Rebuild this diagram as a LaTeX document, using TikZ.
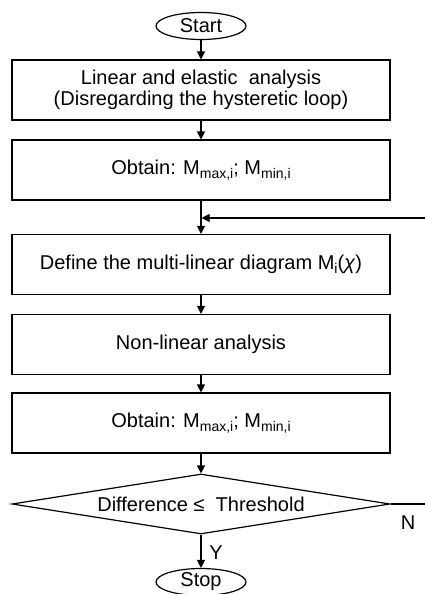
\documentclass[tikz,border=0pt]{standalone}
\usepackage{fontspec}
\setmainfont{Liberation Sans}
\usetikzlibrary{shapes.geometric,arrows.meta}
\newcommand{\subx}[1]{\raisebox{-0.4ex}{\fontsize{14}{14}\selectfont #1}}
\begin{document}
\begin{tikzpicture}[x=1pt,y=-1pt,
  every node/.style={font=\fontsize{20}{21.5}\selectfont},
  proc/.style={draw, line width=1.2pt, minimum width=378pt, minimum height=60pt, inner sep=0pt, align=center},
  term/.style={draw, line width=1.2pt, ellipse, minimum width=90pt, minimum height=27pt, inner sep=0pt},
  dec/.style={draw, line width=1.2pt, diamond, minimum width=378pt, minimum height=60pt, inner sep=0pt, aspect=6.3},
  conn/.style={line width=1.2pt, -{Triangle[length=8pt,width=8pt]}},
  plain/.style={line width=1.2pt}]
\useasboundingbox (0,0) rectangle (425,594);
\node[term] (start) at (201,26) {Start};
\node[proc] (b1) at (201,90) {Linear and elastic\ \ analysis\\(Disregarding the hysteretic loop)};
\node[proc] (b2) at (201,170) {Obtain: M\subx{max,i}; M\subx{min,i}};
\node[proc] (b3) at (201,264.5) {Define the multi-linear diagram M\subx{i}(\textit{χ})};
\node[proc] (b4) at (201,344.5) {Non-linear analysis};
\node[proc] (b5) at (201,423) {Obtain: M\subx{max,i}; M\subx{min,i}};
\node[dec] (d) at (201,504) {Difference ≤\ \ Threshold};
\node[term] (stop) at (201,582) {Stop};
\coordinate (m) at (201,218);
\coordinate (r1) at (428,504);
\coordinate (r2) at (428,218);
\node (n) at (408,523) {N};
\node (y) at (216,553) {Y};
\draw[conn] (start) -- (b1);
\draw[conn] (b1) -- (b2);
\draw[conn] (b2) -- (b3);
\draw[conn] (b3) -- (b4);
\draw[conn] (b4) -- (b5);
\draw[conn] (b5) -- (d);
\draw[conn] (d) -- (stop);
\draw[plain] (d.east) -- (r1) -- (r2);
\draw[conn] (r2) -- ([xshift=0.6pt]m);
\end{tikzpicture}
\end{document}
